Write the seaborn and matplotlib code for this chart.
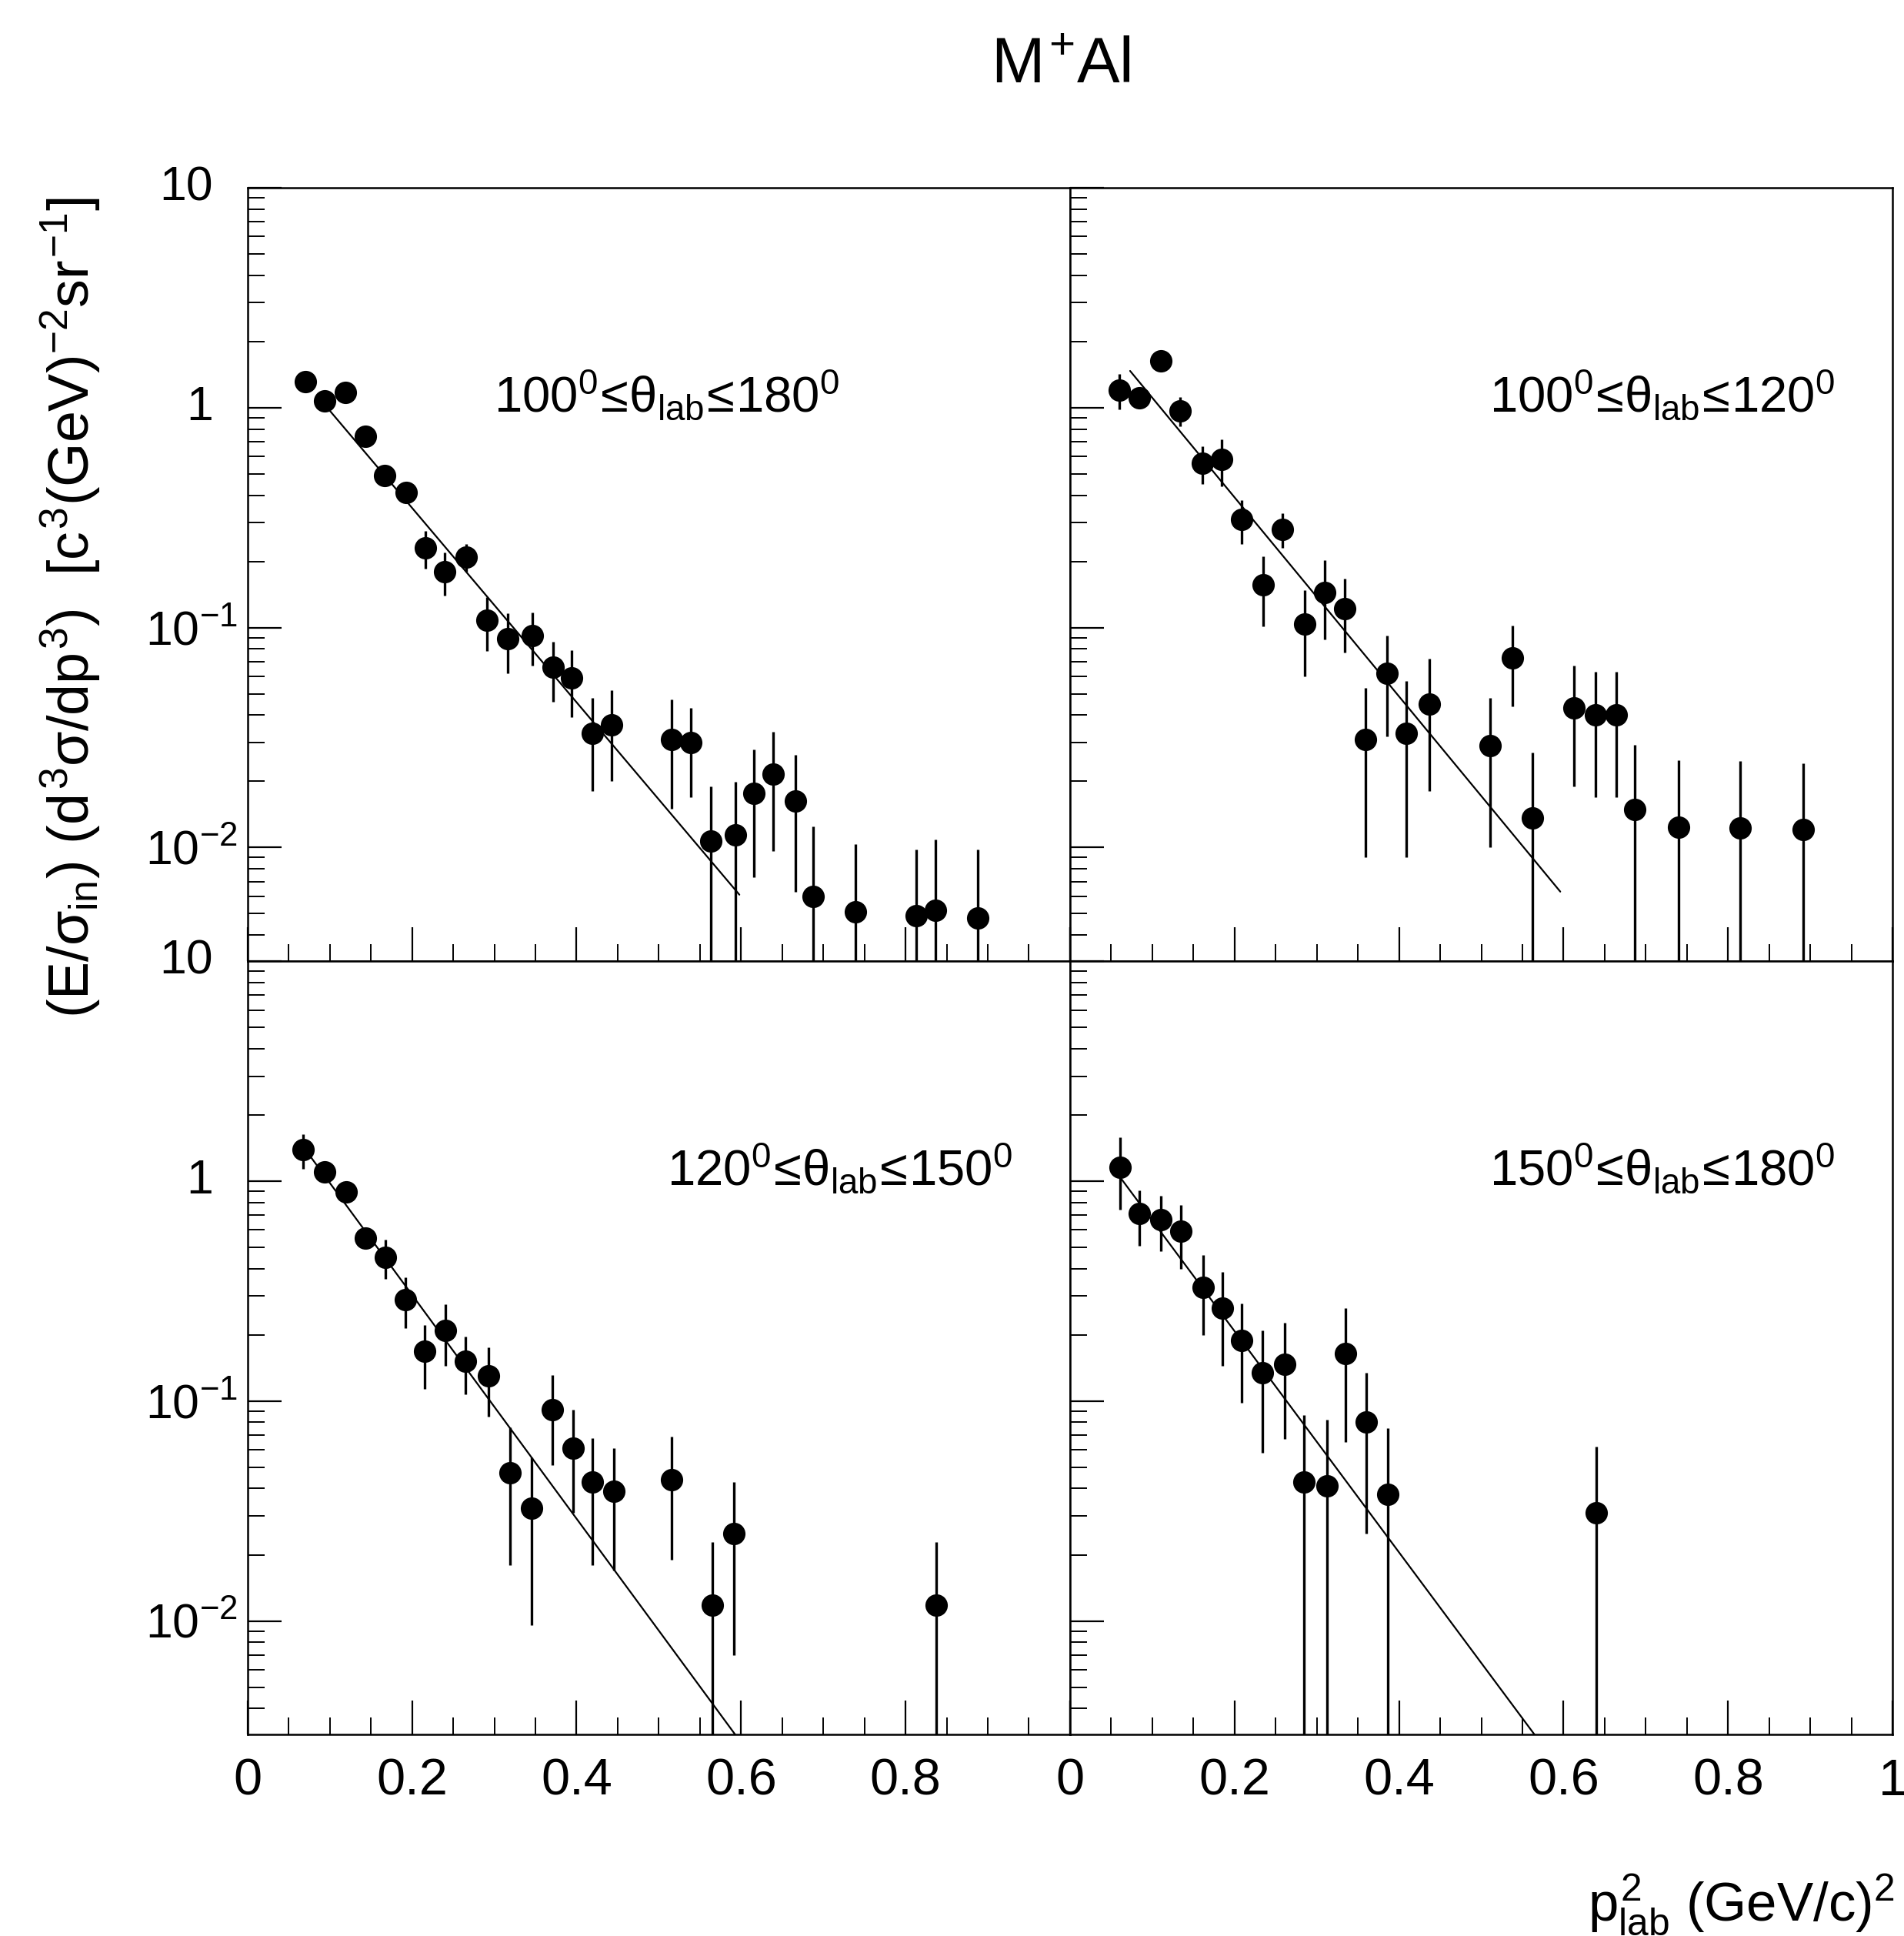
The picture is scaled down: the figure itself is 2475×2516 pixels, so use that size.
import numpy as np
import pandas as pd
import seaborn as sns
import matplotlib.pyplot as plt
from matplotlib.transforms import ScaledTranslation
from matplotlib.ticker import FixedLocator, FixedFormatter, MultipleLocator, LogLocator, NullFormatter

# 100 <= theta_lab <= 180
p2_a = [0.070, 0.094, 0.119, 0.143, 0.167, 0.193, 0.216, 0.240, 0.266, 0.291, 0.316, 0.346, 0.372, 0.394,
        0.419, 0.443, 0.516, 0.539, 0.563, 0.593, 0.616, 0.639, 0.666, 0.688, 0.739, 0.813, 0.836, 0.888]
y_a = [1.31, 1.07, 1.17, 0.74, 0.49, 0.41, 0.23, 0.18, 0.21, 0.108, 0.089, 0.092, 0.066, 0.059,
       0.033, 0.036, 0.031, 0.030, 0.0107, 0.0114, 0.0176, 0.0216, 0.0163, 0.0060, 0.0051, 0.0049, 0.0052, 0.0048]
err_a = [0.08, 0.06, 0.07, 0.06, 0.05, 0.04, 0.045, 0.04, 0.03, 0.03, 0.027, 0.025, 0.02, 0.02,
         0.015, 0.016, 0.016, 0.013, 0.0083, 0.0085, 0.0103, 0.012, 0.010, 0.0065, 0.0053, 0.0049, 0.0057, 0.0050]
fit_x_a = [0.095, 0.598]
fit_y_a = [1.02, 0.0061]

# 100 <= theta_lab <= 120
p2_b = [0.060, 0.084, 0.110, 0.134, 0.161, 0.184, 0.209, 0.235, 0.258, 0.285, 0.310, 0.334, 0.359,
        0.385, 0.409, 0.437, 0.511, 0.538, 0.562, 0.613, 0.639, 0.664, 0.687, 0.740, 0.815, 0.891]
y_b = [1.20, 1.11, 1.63, 0.97, 0.56, 0.58, 0.31, 0.156, 0.28, 0.104, 0.145, 0.122, 0.031,
       0.062, 0.033, 0.045, 0.029, 0.073, 0.0136, 0.043, 0.040, 0.040, 0.0149, 0.0124, 0.0123, 0.0121]
err_b = [0.22, 0.12, 0.10, 0.15, 0.11, 0.14, 0.07, 0.055, 0.05, 0.044, 0.057, 0.045, 0.022,
         0.030, 0.024, 0.027, 0.019, 0.029, 0.0135, 0.024, 0.023, 0.023, 0.0145, 0.0125, 0.0124, 0.012]
fit_x_b = [0.073, 0.596]
fit_y_b = [1.47, 0.0063]

# 120 <= theta_lab <= 150
p2_c = [0.068, 0.094, 0.120, 0.143, 0.168, 0.192, 0.215, 0.241, 0.265, 0.293, 0.319, 0.345, 0.371,
        0.396, 0.419, 0.445, 0.516, 0.565, 0.591, 0.837]
y_c = [1.39, 1.10, 0.89, 0.55, 0.45, 0.29, 0.168, 0.21, 0.152, 0.130, 0.047, 0.0326, 0.091,
       0.061, 0.043, 0.039, 0.044, 0.0118, 0.025, 0.0118]
err_c = [0.25, 0.08, 0.08, 0.05, 0.09, 0.075, 0.054, 0.065, 0.045, 0.045, 0.029, 0.023, 0.04,
         0.03, 0.025, 0.022, 0.025, 0.011, 0.018, 0.011]
fit_x_c = [0.065, 0.60]
fit_y_c = [1.48, 0.0028]

# 150 <= theta_lab <= 180
p2_d = [0.061, 0.084, 0.110, 0.135, 0.162, 0.185, 0.209, 0.234, 0.261, 0.284, 0.312, 0.335, 0.360,
        0.386, 0.640]
y_d = [1.16, 0.71, 0.67, 0.59, 0.33, 0.265, 0.188, 0.134, 0.147, 0.043, 0.041, 0.165, 0.080,
       0.0376, 0.031]
err_d = [0.42, 0.20, 0.19, 0.19, 0.13, 0.12, 0.09, 0.076, 0.08, 0.043, 0.041, 0.10, 0.055,
         0.0376, 0.031]
fit_x_d = [0.061, 0.575]
fit_y_d = [1.04, 0.0027]

labels = [r'$100^0\!\leq\!\theta_{lab}\!\leq\!180^0$', r'$100^0\!\leq\!\theta_{lab}\!\leq\!120^0$',
          r'$120^0\!\leq\!\theta_{lab}\!\leq\!150^0$', r'$150^0\!\leq\!\theta_{lab}\!\leq\!180^0$']

ytick_vals = [10, 1, 0.1, 0.01]
ytick_plain = ['10', '1', None, None]
ytick_super = [None, None, r'$10^{-1}$', r'$10^{-2}$']
xtick_vals = [0, 0.2, 0.4, 0.6, 0.8, 1.0]

sns.set_style("ticks")
plt.rcParams['font.family'] = ['Liberation Sans', 'DejaVu Sans']
plt.rcParams['mathtext.fontset'] = 'custom'
plt.rcParams['mathtext.rm'] = 'Liberation Sans'
plt.rcParams['mathtext.it'] = 'Liberation Sans'
plt.rcParams['mathtext.bf'] = 'Liberation Sans:bold'
plt.rcParams['mathtext.sf'] = 'Liberation Sans'
for k in ['text.color', 'axes.labelcolor', 'xtick.color', 'ytick.color', 'axes.edgecolor']:
    plt.rcParams[k] = 'black'

fig, axes = plt.subplots(2, 2, figsize=(24.75, 25.16), dpi=100)
fig.subplots_adjust(left=0.130, right=0.994, top=0.903, bottom=0.104, wspace=0, hspace=0)

panels = [
    (axes[0, 0], p2_a, y_a, err_a, fit_x_a, fit_y_a, labels[0], 0.51, 'center'),
    (axes[0, 1], p2_b, y_b, err_b, fit_x_b, fit_y_b, labels[1], 0.93, 'right'),
    (axes[1, 0], p2_c, y_c, err_c, fit_x_c, fit_y_c, labels[2], 0.93, 'right'),
    (axes[1, 1], p2_d, y_d, err_d, fit_x_d, fit_y_d, labels[3], 0.93, 'right'),
]

for ax, px, py, pe, fx, fy, lab, tx, ha in panels:
    df = pd.DataFrame({'p2': px, 'y': py, 'err': pe})
    lower = np.minimum(df['err'], df['y'] * 0.999)
    ax.set_yscale('log')
    ax.errorbar(df['p2'], df['y'], yerr=[lower, df['err']], fmt='none', ecolor='black',
                elinewidth=2.4, capsize=0, zorder=2)
    sns.lineplot(x=fx, y=fy, ax=ax, color='black', linewidth=1.6, zorder=2)
    sns.scatterplot(data=df, x='p2', y='y', ax=ax, color='black', s=440, linewidth=0, zorder=3)
    ax.text(tx, 0.71, lab, transform=ax.transAxes, ha=ha, va='baseline', fontsize=47)
    ax.set_xlim(0, 1)
    ax.set_ylim(0.00304, 10)
    ax.set_xlabel('')
    ax.set_ylabel('')
    ax.xaxis.set_major_locator(FixedLocator(xtick_vals))
    ax.xaxis.set_minor_locator(MultipleLocator(0.05))
    ax.yaxis.set_major_locator(FixedLocator(ytick_vals))
    ax.yaxis.set_minor_locator(LogLocator(base=10, subs=np.arange(2, 10), numticks=20))
    ax.yaxis.set_minor_formatter(NullFormatter())
    ax.tick_params(which='major', direction='in', length=32, width=1.6, top=False, right=False)
    ax.tick_params(which='minor', direction='in', length=16, width=1.4, top=False, right=False)
    ax.tick_params(axis='x', labelsize=48, pad=22)
    ax.tick_params(axis='y', labelleft=False)
    for sp in ax.spines.values():
        sp.set_linewidth(1.8)
        sp.set_color('black')

# y tick labels: the base "10" lines up, the exponent hangs to the right
for ax in axes[:, 0]:
    tr = ax.get_yaxis_transform()
    for v, plain, sup in zip(ytick_vals, ytick_plain, ytick_super):
        if plain is not None:
            ax.text(0, v, plain, ha='right', va='center', fontsize=45,
                    transform=tr + ScaledTranslation(-0.45, 0, fig.dpi_scale_trans))
        else:
            ax.text(0, v, sup, ha='right', va='baseline', fontsize=45,
                    transform=tr + ScaledTranslation(-0.13, -0.22, fig.dpi_scale_trans))

for ax in axes[0, :]:
    ax.tick_params(axis='x', labelbottom=False)
axes[1, 0].xaxis.set_major_formatter(FixedFormatter(['0', '0.2', '0.4', '0.6', '0.8', '']))
axes[1, 1].xaxis.set_major_formatter(FixedFormatter(['0', '0.2', '0.4', '0.6', '0.8', '1']))

fig.text(0.557, 0.966, r'$M^{+}Al$', ha='center', va='center', fontsize=60)
fig.text(0.037, 0.686, r'$(E/\sigma_{in})\ (d^3\sigma/dp^3)\ \ [c^3(GeV)^{-2}sr^{-1}]$',
         rotation=90, ha='center', va='center', fontsize=53)
fig.text(0.995, 0.008, r'$p^2_{lab}\ (GeV/c)^2$', ha='right', va='baseline', fontsize=51)

plt.savefig("out.png", dpi=100)
